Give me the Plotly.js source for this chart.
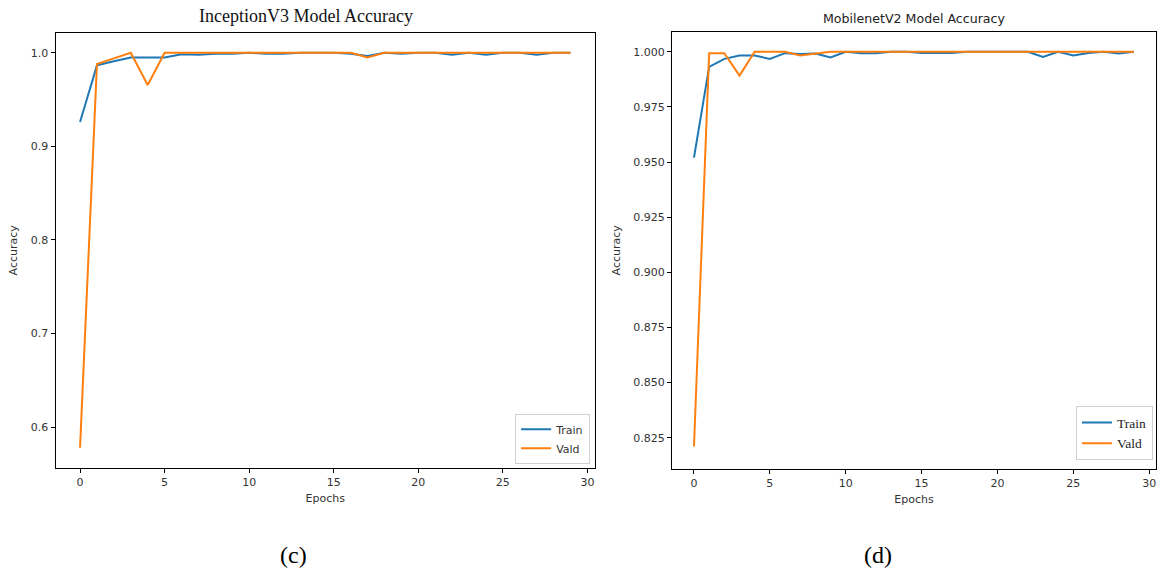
<!DOCTYPE html>
<html>
<head>
<meta charset="utf-8">
<script src="https://cdn.plot.ly/plotly-3.0.1.min.js"></script>
<style>html,body{margin:0;padding:0;background:#fff;}#chart{width:1164px;height:574px;}</style>
</head>
<body>
<div id="chart"></div>
<script>
const epochs = Array.from({length: 30}, (_, i) => i);

const inceptionTrain = [0.926, 0.9865, 0.991, 0.995, 0.995, 0.995, 0.9985, 0.998, 0.999, 0.999,
  1.0, 0.999, 0.999, 1.0, 1.0, 1.0, 0.999, 0.9965, 1.0, 0.999,
  1.0, 1.0, 0.998, 1.0, 0.998, 1.0, 1.0, 0.998, 1.0, 1.0];
const inceptionVald = [0.578, 0.988, 0.994, 1.0, 0.9655, 1.0, 1.0, 1.0, 1.0, 1.0,
  1.0, 1.0, 1.0, 1.0, 1.0, 1.0, 1.0, 0.995, 1.0, 1.0,
  1.0, 1.0, 1.0, 1.0, 1.0, 1.0, 1.0, 1.0, 1.0, 1.0];

const mobileTrain = [0.952, 0.9932, 0.9968, 0.9983, 0.9983, 0.9968, 0.9994, 0.999, 0.9992, 0.9974,
  1.0, 0.9993, 0.9993, 1.0, 1.0, 0.9995, 0.9995, 0.9995, 1.0, 1.0,
  1.0, 1.0, 1.0, 0.9977, 1.0, 0.9983, 0.9995, 1.0, 0.9992, 1.0];
const mobileVald = [0.821, 0.9994, 0.9994, 0.9892, 1.0, 1.0, 1.0, 0.9983, 0.9993, 1.0,
  1.0, 1.0, 1.0, 1.0, 1.0, 1.0, 1.0, 1.0, 1.0, 1.0,
  1.0, 1.0, 1.0, 1.0, 1.0, 1.0, 1.0, 1.0, 1.0, 1.0];

const leftYTicks = [0.6, 0.7, 0.8, 0.9, 1.0];
const leftYTickText = ['0.6', '0.7', '0.8', '0.9', '1.0'];
const rightYTicks = [0.825, 0.85, 0.875, 0.9, 0.925, 0.95, 0.975, 1.0];
const rightYTickText = ['0.825', '0.850', '0.875', '0.900', '0.925', '0.950', '0.975', '1.000'];
const xTicks = [0, 5, 10, 15, 20, 25, 30];

const blue = '#1f77b4', orange = '#ff7f0e';
const tickFont = {family: 'DejaVu Sans', size: 11, color: '#333'};

const traces = [
  {x: epochs, y: inceptionTrain, name: 'Train', mode: 'lines', line: {color: blue, width: 2}, xaxis: 'x', yaxis: 'y', legend: 'legend'},
  {x: epochs, y: inceptionVald, name: 'Vald', mode: 'lines', line: {color: orange, width: 2}, xaxis: 'x', yaxis: 'y', legend: 'legend'},
  {x: epochs, y: mobileTrain, name: 'Train', mode: 'lines', line: {color: blue, width: 2}, xaxis: 'x2', yaxis: 'y2', legend: 'legend2'},
  {x: epochs, y: mobileVald, name: 'Vald', mode: 'lines', line: {color: orange, width: 2}, xaxis: 'x2', yaxis: 'y2', legend: 'legend2'}
];

const axisCommon = {
  showline: true, mirror: true, linecolor: '#000', linewidth: 1,
  ticks: 'outside', ticklen: 4, tickcolor: '#000', tickwidth: 1,
  showgrid: false, zeroline: false, tickfont: tickFont
};

const layout = {
  width: 1164, height: 574,
  margin: {l: 0, r: 0, t: 0, b: 0},
  paper_bgcolor: '#fff', plot_bgcolor: '#fff',
  showlegend: true,
  xaxis: Object.assign({}, axisCommon, {domain: [0.0477, 0.5112], range: [-1.45, 30.45], tickvals: xTicks,
    title: {text: 'Epochs', font: {family: 'DejaVu Sans', size: 11, color: '#333'}, standoff: 6}, anchor: 'y'}),
  yaxis: Object.assign({}, axisCommon, {domain: [0.1855, 0.9425], range: [0.5569, 1.0211], tickvals: leftYTicks, ticktext: leftYTickText,
    title: {text: 'Accuracy', font: {family: 'DejaVu Sans', size: 11, color: '#333'}, standoff: 10}, anchor: 'x'}),
  xaxis2: Object.assign({}, axisCommon, {domain: [0.5773, 0.9931], range: [-1.45, 30.45], tickvals: xTicks,
    title: {text: 'Epochs', font: {family: 'DejaVu Sans', size: 11, color: '#333'}, standoff: 6}, anchor: 'y2'}),
  yaxis2: Object.assign({}, axisCommon, {domain: [0.1837, 0.9443], range: [0.811, 1.009], tickvals: rightYTicks, ticktext: rightYTickText,
    title: {text: 'Accuracy', font: {family: 'DejaVu Sans', size: 11, color: '#333'}, standoff: 10}, anchor: 'x2'}),
  legend: {x: 0.5070, y: 0.192, xanchor: 'right', yanchor: 'bottom', bgcolor: 'rgba(255,255,255,0.8)',
    bordercolor: '#d0d0d0', borderwidth: 1, font: {family: 'DejaVu Sans', size: 11, color: '#333'}, tracegroupgap: 0},
  legend2: {x: 0.9905, y: 0.198, xanchor: 'right', yanchor: 'bottom', bgcolor: 'rgba(255,255,255,0.8)',
    bordercolor: '#d0d0d0', borderwidth: 1, itemwidth: 30, font: {family: 'Liberation Serif', size: 13.5, color: '#222'}, tracegroupgap: 0},
  annotations: [
    {text: 'InceptionV3 Model Accuracy', xref: 'paper', yref: 'paper', x: 306/1164, y: 1 - 16/574, xanchor: 'center', yanchor: 'middle',
      showarrow: false, font: {family: 'Liberation Serif', size: 18, color: '#111'}},
    {text: 'MobilenetV2 Model Accuracy', xref: 'paper', yref: 'paper', x: 914/1164, y: 1 - 19/574, xanchor: 'center', yanchor: 'middle',
      showarrow: false, font: {family: 'DejaVu Sans', size: 12.6, color: '#222'}},
    {text: '(c)', xref: 'paper', yref: 'paper', x: 293/1164, y: 1 - 555/574, xanchor: 'center', yanchor: 'middle',
      showarrow: false, font: {family: 'Liberation Serif', size: 24, color: '#000'}},
    {text: '(d)', xref: 'paper', yref: 'paper', x: 878/1164, y: 1 - 555/574, xanchor: 'center', yanchor: 'middle',
      showarrow: false, font: {family: 'Liberation Serif', size: 24, color: '#000'}}
  ]
};

Plotly.newPlot('chart', traces, layout, {staticPlot: true, displayModeBar: false});
</script>
</body>
</html>
